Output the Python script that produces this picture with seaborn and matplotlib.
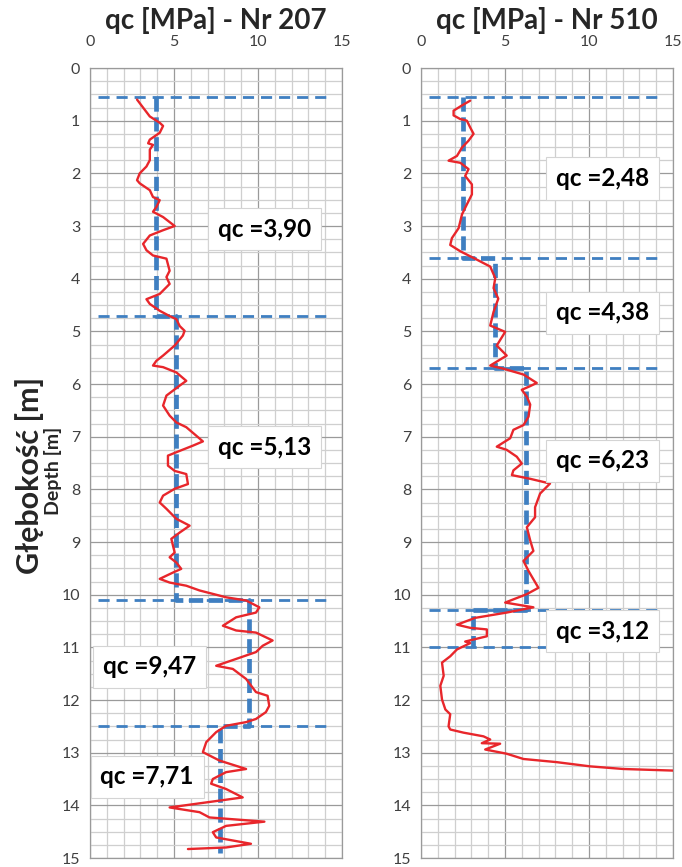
import numpy as np
import pandas as pd
import matplotlib
matplotlib.use("Agg")
import matplotlib.pyplot as plt
from matplotlib.ticker import MultipleLocator
import seaborn as sns

# ---------------- data ----------------
depth_207 = [0.60, 0.92, 1.04, 1.10, 1.23, 1.36, 1.43, 1.46, 1.55, 1.75, 1.87, 2.00, 2.13, 2.19,
             2.32, 2.45, 2.51, 2.64, 2.73, 2.83, 3.00, 3.08, 3.18, 3.34, 3.46, 3.56, 3.62, 3.85,
             3.97, 4.10, 4.29, 4.39, 4.48, 4.61, 4.71, 4.77, 4.90, 4.99, 5.08, 5.27, 5.46, 5.56,
             5.65, 5.68, 5.78, 5.94, 6.03, 6.22, 6.41, 6.60, 6.73, 6.82, 6.98, 7.09, 7.17, 7.27,
             7.36, 7.55, 7.65, 7.71, 7.90, 7.99, 8.12, 8.25, 8.37, 8.56, 8.69, 8.82, 8.94, 9.20,
             9.29, 9.39, 9.51, 9.58, 9.70, 9.77, 9.83, 9.92, 10.05, 10.11, 10.24, 10.34, 10.43,
             10.59, 10.68, 10.72, 10.87, 10.97, 11.09, 11.22, 11.35, 11.41, 11.60, 11.85, 11.92,
             12.11, 12.23, 12.36, 12.42, 12.49, 12.61, 12.80, 12.99, 13.15, 13.31, 13.37, 13.50,
             13.59, 13.69, 13.85, 13.91, 14.04, 14.13, 14.23, 14.31, 14.39, 14.51, 14.61, 14.73,
             14.80, 14.83]
qc_207 = [2.80, 3.56, 4.15, 4.35, 4.15, 3.56, 3.46, 3.75, 3.56, 3.56, 3.36, 2.96, 2.80, 2.96,
          3.56, 3.75, 4.15, 3.95, 3.75, 4.35, 5.04, 4.35, 3.56, 3.16, 3.36, 3.75, 4.55, 4.74,
          4.55, 4.74, 4.15, 3.36, 3.56, 4.15, 4.74, 5.14, 5.34, 5.63, 5.53, 5.04, 4.35, 3.95,
          3.75, 4.35, 5.14, 5.73, 5.34, 4.55, 4.35, 4.74, 5.14, 5.73, 6.32, 6.72, 6.13, 5.34,
          4.64, 4.64, 5.04, 5.73, 5.83, 5.04, 4.35, 4.15, 4.55, 5.14, 5.93, 5.34, 4.84, 5.04,
          4.74, 5.14, 5.43, 4.94, 4.15, 4.74, 5.73, 6.52, 8.10, 9.29, 10.08, 9.88, 8.70,
          7.91, 8.70, 9.88, 10.87, 10.28, 9.88, 8.70, 7.51, 8.50, 9.29, 9.88, 10.57,
          10.67, 10.47, 9.88, 9.29, 8.10, 7.51, 6.92, 6.72, 7.71, 9.29, 8.10, 7.31,
          7.21, 8.10, 9.09, 7.71, 4.74, 6.52, 7.11, 10.38, 8.10, 7.31, 7.51, 9.58,
          8.10, 5.83]

depth_510 = [0.62, 0.71, 0.81, 0.90, 0.97, 1.00, 1.13, 1.25, 1.38, 1.51, 1.67, 1.76, 1.80, 1.92,
             2.05, 2.21, 2.40, 2.59, 2.78, 2.91, 3.04, 3.23, 3.36, 3.48, 3.64, 3.77, 3.99, 4.18,
             4.38, 4.63, 4.89, 5.01, 5.27, 5.46, 5.65, 5.71, 5.82, 5.98, 6.04, 6.11, 6.24, 6.39,
             6.62, 6.78, 6.87, 7.03, 7.19, 7.25, 7.38, 7.51, 7.64, 7.73, 7.80, 7.89, 8.08, 8.34,
             8.53, 8.72, 8.97, 9.17, 9.36, 9.55, 9.87, 9.99, 10.15, 10.24, 10.34, 10.44, 10.57,
             10.63, 10.66, 10.79, 10.89, 10.92, 11.04, 11.17, 11.29, 11.54, 11.73, 11.99, 12.18,
             12.27, 12.50, 12.56, 12.62, 12.69, 12.75, 12.82, 12.83, 12.94, 13.02, 13.12, 13.18,
             13.26, 13.31, 13.34]
qc_510 = [2.93, 2.44, 1.94, 1.94, 2.34, 2.73, 2.93, 3.13, 2.83, 2.44, 2.14, 1.64, 2.34, 2.83,
          2.63, 3.03, 3.03, 2.73, 2.44, 2.34, 2.24, 1.84, 1.74, 2.34, 3.33, 4.12, 4.42, 4.32,
          4.60, 4.32, 4.12, 5.01, 4.51, 5.10, 4.12, 4.91, 6.10, 6.89, 6.50, 6.00, 6.30, 6.50,
          6.40, 6.10, 5.50, 5.31, 4.51, 5.10, 5.70, 6.00, 5.50, 5.41, 6.50, 7.68, 7.09, 6.79,
          6.79, 6.30, 6.50, 6.69, 6.10, 6.40, 6.99, 6.30, 5.01, 6.69, 5.10, 3.23, 2.14,
          2.93, 3.92, 3.92, 2.63, 2.93, 2.14, 1.74, 1.25, 1.35, 1.15, 1.25, 1.45,
          1.74, 1.64, 1.74, 2.53, 3.72, 4.12, 3.62, 4.71, 3.82, 5.10, 6.10, 8.08,
          10.06, 12.04, 15.00]

# layer boundaries (depth) and mean qc for each layer
bounds_207 = [0.55, 4.70, 10.10, 12.50, 14.90]
means_207 = [3.90, 5.13, 9.47, 7.71]
labels_207 = ["qc =3,90", "qc =5,13", "qc =9,47", "qc =7,71"]
lines_207 = [0.55, 4.70, 10.10, 12.50]

bounds_510 = [0.55, 3.60, 5.70, 10.30, 11.00]
means_510 = [2.48, 4.38, 6.23, 3.12]
labels_510 = ["qc =2,48", "qc =4,38", "qc =6,23", "qc =3,12"]
lines_510 = [0.55, 3.60, 5.70, 10.30, 11.00]

titles = ["qc [MPa] - Nr 207", "qc [MPa] - Nr 510"]
x_ticks = [0, 5, 10, 15]
y_ticks = list(range(0, 16))

# label positions (qc, depth)
lab_pos_207 = [(10.4, 3.06), (10.4, 7.2), (3.55, 11.37), (3.4, 13.46)]
lab_pos_510 = [(10.8, 2.1), (10.8, 4.65), (10.8, 7.46), (10.8, 10.69)]

# ---------------- style ----------------
sns.set_theme(style="white")
plt.rcParams['font.family'] = ['Lato', 'DejaVu Sans']

fig = plt.figure(figsize=(6.82, 8.67), dpi=100)
axL = fig.add_axes([90/682, 9/867, 252/682, 790/867])
axR = fig.add_axes([421/682, 9/867, 252/682, 790/867])

RED = "#e8262b"
BLUE = "#3f7fc1"

panels = [
    (axL, depth_207, qc_207, bounds_207, means_207, labels_207, lines_207, lab_pos_207, titles[0]),
    (axR, depth_510, qc_510, bounds_510, means_510, labels_510, lines_510, lab_pos_510, titles[1]),
]

for ax, dep, qc, bnds, means, labs, hl, lpos, title in panels:
    ax.set_xlim(0, 15)
    ax.set_ylim(15, 0)
    ax.xaxis.set_major_locator(MultipleLocator(5))
    ax.xaxis.set_minor_locator(MultipleLocator(1))
    ax.yaxis.set_major_locator(MultipleLocator(1))
    ax.yaxis.set_minor_locator(MultipleLocator(0.25))
    ax.grid(which="major", color="#9a9a9a", lw=0.9)
    ax.grid(which="minor", color="#cfcfcf", lw=0.9)
    ax.set_axisbelow(True)
    ax.xaxis.tick_top()
    ax.set_xticks(x_ticks)
    ax.set_yticks(y_ticks)
    ax.tick_params(axis="both", which="major", labelsize=11.5, colors="#404040",
                   length=4, width=0.8, pad=3)
    ax.tick_params(axis="both", which="minor", length=0)
    ax.tick_params(axis="x", which="major", length=0, pad=14)
    for s in ax.spines.values():
        s.set_color("#9a9a9a")
        s.set_linewidth(0.9)

    # horizontal boundary dashed lines
    ax.hlines(hl, 0.45, 14.2, colors=BLUE, lw=2.0, linestyles=(0, (4, 2.5)), zorder=3)

    # step line of means
    sx, sy = [], []
    for i, m in enumerate(means):
        sx += [m, m]
        sy += [bnds[i], bnds[i + 1]]
    ax.plot(sx, sy, color=BLUE, lw=3.4, linestyle=(0, (3, 1.2)), zorder=3)

    df = pd.DataFrame({"qc": qc, "depth": dep})
    sns.lineplot(data=df, x="qc", y="depth", sort=False, estimator=None,
                 color=RED, lw=1.7, ax=ax, zorder=4)
    ax.set_xlabel("")
    ax.set_ylabel("")
    ax.set_ylim(15, 0)
    ax.set_xlim(0, 15)

    for (px, py), t in zip(lpos, labs):
        ax.text(px, py, t, ha="center", va="center", fontsize=17.5, fontweight="bold",
                color="black", zorder=6,
                bbox=dict(boxstyle="square,pad=0.4", fc="white", ec="#d4d4d4", lw=0.8))

# titles placed in figure coordinates above each panel
fig.text(216/682, 1 - 21/867, titles[0], ha="center", va="center",
         fontsize=20, fontweight="bold")
fig.text(547/682, 1 - 21/867, titles[1], ha="center", va="center",
         fontsize=20, fontweight="bold")

fig.text(30/682, 1 - 475/867, "Głębokość [m]", rotation=90, ha="center", va="center",
         fontsize=22, fontweight="bold")
fig.text(53/682, 1 - 471/867, "Depth [m]", rotation=90, ha="center", va="center",
         fontsize=14, fontweight="bold")

fig.savefig("out.png", dpi=100)
